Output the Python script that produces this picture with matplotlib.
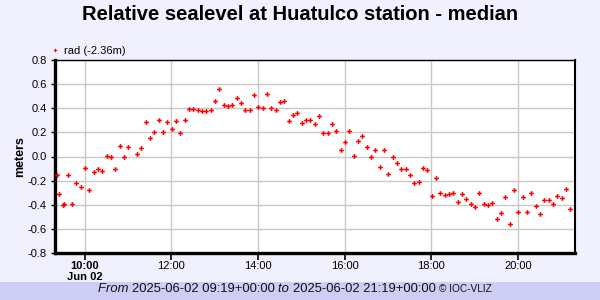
import matplotlib
matplotlib.use("Agg")
import matplotlib.pyplot as plt
from matplotlib.patches import Rectangle

plt.rcParams['font.family'] = ['Liberation Sans', 'DejaVu Sans']

title = "Relative sealevel at Huatulco station - median"
series_label = "rad (-2.36m)"
y_label = "meters"

# time in hours of day (2025-06-02, UTC)
times = [9.37, 9.42, 9.492, 9.515, 9.608, 9.700, 9.792, 9.908, 10.000, 10.092,
         10.208, 10.300, 10.392, 10.508, 10.600, 10.692, 10.808, 10.900, 10.992, 11.200,
         11.292, 11.408, 11.500, 11.592, 11.708, 11.800, 11.892, 12.008, 12.100, 12.192,
         12.308, 12.400, 12.492, 12.608, 12.700, 12.792, 12.908, 13.000, 13.092, 13.208,
         13.300, 13.392, 13.508, 13.600, 13.692, 13.808, 13.900, 13.992, 14.108, 14.200,
         14.292, 14.408, 14.500, 14.592, 14.708, 14.800, 14.892, 15.008, 15.100, 15.192,
         15.308, 15.400, 15.492, 15.608, 15.700, 15.792, 15.908, 16.000, 16.092, 16.208,
         16.300, 16.392, 16.508, 16.600, 16.692, 16.808, 16.900, 16.992, 17.108, 17.200,
         17.292, 17.408, 17.500, 17.592, 17.708, 17.800, 17.892, 18.008, 18.100, 18.192,
         18.308, 18.400, 18.492, 18.608, 18.700, 18.792, 18.908, 19.000, 19.092, 19.208,
         19.300, 19.392, 19.508, 19.600, 19.692, 19.808, 19.900, 19.992, 20.108, 20.200,
         20.292, 20.408, 20.500, 20.592, 20.708, 20.800, 20.892, 21.008, 21.100, 21.192]

values = [-0.156, -0.309, -0.398, -0.392, -0.156, -0.392, -0.217, -0.25, -0.092, -0.275,
          -0.125, -0.1, -0.117, 0.008, -0.008, -0.1, 0.083, 0.0, 0.075, 0.017,
          0.067, 0.283, 0.15, 0.2, 0.3, 0.2, 0.283, 0.225, 0.292, 0.192,
          0.3, 0.392, 0.392, 0.383, 0.375, 0.375, 0.383, 0.458, 0.558, 0.425,
          0.417, 0.425, 0.483, 0.442, 0.383, 0.383, 0.508, 0.408, 0.4, 0.517,
          0.4, 0.383, 0.45, 0.458, 0.292, 0.342, 0.358, 0.275, 0.3, 0.3,
          0.267, 0.333, 0.192, 0.192, 0.267, 0.208, 0.05, 0.117, 0.208, 0.008,
          0.125, 0.167, 0.075, 0.0, 0.058, -0.083, 0.058, -0.142, 0.0, -0.058,
          -0.1, -0.1, -0.15, -0.217, -0.208, -0.092, -0.108, -0.325, -0.175, -0.3,
          -0.317, -0.308, -0.3, -0.375, -0.308, -0.35, -0.392, -0.417, -0.3, -0.392,
          -0.4, -0.383, -0.517, -0.467, -0.333, -0.558, -0.275, -0.458, -0.333, -0.458,
          -0.3, -0.408, -0.475, -0.358, -0.358, -0.392, -0.325, -0.342, -0.267, -0.433]

x_ticks = [10, 12, 14, 16, 18, 20]
x_tick_labels = ["10:00\nJun 02", "12:00", "14:00", "16:00", "18:00", "20:00"]
y_ticks = [-0.8, -0.6, -0.4, -0.2, 0.0, 0.2, 0.4, 0.6, 0.8]
y_tick_labels = ["-0.8", "-0.6", "-0.4", "-0.2", "0.0", "0.2", "0.4", "0.6", "0.8"]
x_start = 9 + 19 / 60
x_end = 21 + 19 / 60

footer_parts = [("From ", "italic", 9.4), ("2025-06-02 09:19+00:00 ", "normal", 9.4),
                ("to ", "italic", 9.4), ("2025-06-02 21:19+00:00 ", "normal", 9.4),
                ("© IOC-VLIZ", "normal", 7.3)]

bg = "#F0F0FF"
fig = plt.figure(figsize=(6, 3), dpi=100, facecolor=bg)

# footer band
fig.patches.append(Rectangle((0, 0), 1, 18 / 300, transform=fig.transFigure,
                             facecolor="#CDCDF5", edgecolor="none", zorder=-5))

ax = fig.add_axes([55 / 600, 1 - 253 / 300, 520 / 600, 193 / 300])
ax.set_facecolor("white")

ax.plot(times, values, linestyle="none", marker="P", markersize=3.4,
        color="red", markeredgewidth=0, label=series_label, zorder=3)

ax.set_xlim(x_start, x_end)
ax.set_ylim(-0.8, 0.8)
ax.set_xticks(x_ticks)
ax.set_xticklabels(x_tick_labels, fontsize=8, linespacing=1.05)
lbls = ax.get_xticklabels()
lbls[0].set_fontweight("bold")
ax.set_yticks(y_ticks)
ax.set_yticklabels(y_tick_labels, fontsize=8)
ax.grid(True, color="#C8C8C8", linewidth=1)
ax.set_axisbelow(True)
ax.tick_params(axis="x", direction="out", length=5, width=1.2, pad=1)
ax.tick_params(axis="y", direction="out", length=3, width=1, pad=3)

for side in ["left", "bottom"]:
    ax.spines[side].set_linewidth(2.4)
ax.spines["top"].set_linewidth(1.0)
ax.spines["right"].set_linewidth(1.5)
for s in ax.spines.values():
    s.set_color("black")

ax.set_ylabel(y_label, fontsize=9, fontweight="bold", labelpad=1)

fig.text(0.5, 1 - 15 / 300, title, ha="center", va="center",
         fontsize=14.5, fontweight="bold")

leg = ax.legend(loc="lower left", bbox_to_anchor=(-0.012, 1.0), frameon=False,
                fontsize=8, handlelength=0.4, handletextpad=0.6,
                borderaxespad=0.0, borderpad=0.35, markerscale=0.7)

renderer = fig.canvas.get_renderer()
widths = []
texts = []
for s, style, fs in footer_parts:
    t = fig.text(0, 1 - 289 / 300, s, fontsize=fs, style=style, va="center",
                 ha="left", color="#111111")
    texts.append(t)
    widths.append(t.get_window_extent(renderer).width)
total = sum(widths)
x0 = 295 - total / 2
for t, w in zip(texts, widths):
    t.set_x(x0 / 600)
    x0 += w

fig.savefig("out.png", dpi=100, facecolor=bg)
